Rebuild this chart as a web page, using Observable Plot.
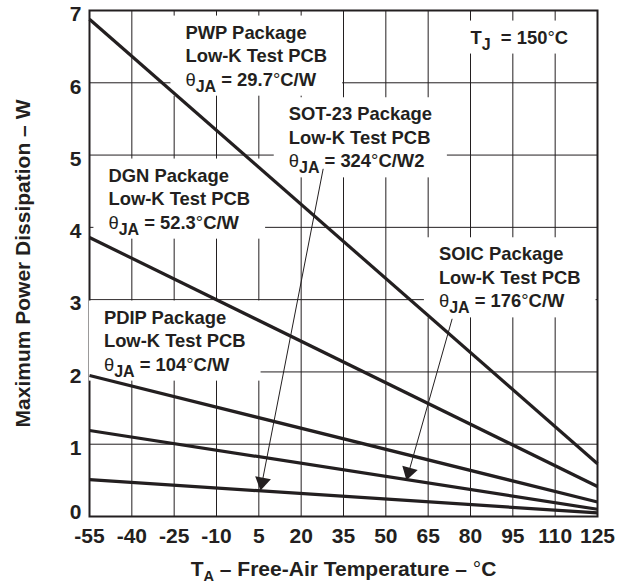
<!DOCTYPE html>
<html>
<head>
<meta charset="utf-8">
<script src="https://cdn.jsdelivr.net/npm/d3@7"></script>
<script src="https://cdn.jsdelivr.net/npm/@observablehq/plot@0.6"></script>
<style>
  html, body { margin: 0; padding: 0; background: #fff; }
</style>
</head>
<body>
<div id="chart"></div>
<script>
// ---- data ----
const temps = [-55, 125];                 // °C, line end points
const pwpPower   = [6.88, 0.73];          // W
const dgnPower   = [3.86, 0.415];
const pdipPower  = [1.95, 0.20];
const soicPower  = [1.19, 0.10];
const sot23Power = [0.51, 0.05];
const packages = ["PWP", "DGN", "PDIP", "SOIC", "SOT-23"];
const powers = [pwpPower, dgnPower, pdipPower, soicPower, sot23Power];

const xTicks = [-55, -40, -25, -10, 5, 20, 35, 50, 65, 80, 95, 110, 125];
const yTicks = [0, 1, 2, 3, 4, 5, 6, 7];

const labelTexts = [
  "PWP Package\nLow-K Test PCB\nθ_{JA} = 29.7°C/W",
  "SOT-23 Package\nLow-K Test PCB\nθ_{JA} = 324°C/W2",
  "DGN Package\nLow-K Test PCB\nθ_{JA} = 52.3°C/W",
  "PDIP Package\nLow-K Test PCB\nθ_{JA} = 104°C/W",
  "SOIC Package\nLow-K Test PCB\nθ_{JA} = 176°C/W",
  "T_{J}  = 150°C"
];
const labelT = [-21, 15.6, -48.3, -49.9, 68.8, 80];
const labelP = [6.843, 5.713, 4.865, 2.901, 3.776, 6.774];

const arrowFromT = [27.8, 73.5];
const arrowFromP = [4.81, 2.735];
const arrowToT   = [5.6, 57.3];
const arrowToP   = [0.36, 0.50];

const yTitle = "Maximum Power Dissipation – W";
const xTitle = "T_{A} – Free-Air Temperature – °C";

// ---- tables built from the arrays ----
const series = packages.flatMap((pkg, i) => temps.map((t, j) => ({pkg, t, p: powers[i][j]})));
const annotations = labelTexts.map((text, i) => ({text, x: labelT[i], y: labelP[i]}));
const arrows = arrowFromT.map((_, i) => ({x1: arrowFromT[i], y1: arrowFromP[i], x2: arrowToT[i], y2: arrowToP[i]}));

const ink = "#231f20";
const font = "'Liberation Sans', Arial, Helvetica, sans-serif";
const yAxisStyle = {tickFormat: d => String(d), tickSize: 0, tickPadding: 8, label: null, fontSize: 21, fontWeight: "bold", fill: ink};

const chart = Plot.plot({
  width: 617,
  height: 584,
  marginLeft: 89,
  marginRight: 20,
  marginTop: 10,
  marginBottom: 68,
  style: {fontFamily: font, fontSize: "21px", fontWeight: "bold", color: ink, background: "#fff", overflow: "visible"},
  x: {domain: [-55, 125]},
  y: {domain: [0, 7]},
  marks: [
    Plot.ruleX(xTicks, {stroke: ink, strokeWidth: 1}),
    Plot.ruleY(yTicks, {stroke: ink, strokeWidth: 1}),
    Plot.frame({stroke: ink, strokeWidth: 2}),
    Plot.axisX({ticks: xTicks, tickFormat: d => String(d), tickSize: 0, tickPadding: 12, label: null, fontSize: 21, fontWeight: "bold", fill: ink}),
    Plot.axisY({...yAxisStyle, ticks: yTicks.filter(d => d > 0), dy: 4}),
    Plot.axisY({...yAxisStyle, ticks: yTicks.filter(d => d === 0), dy: -4}),
    Plot.line(series, {x: "t", y: "p", z: "pkg", stroke: ink, strokeWidth: 3.2, strokeLinecap: "butt"}),
    Plot.text(annotations, {x: "x", y: "y", text: "text", textAnchor: "start", lineAnchor: "top", lineHeight: 1.28, fontSize: 18.4, fontWeight: "bold", fontFamily: font, fill: ink}),
    Plot.link(arrows, {x1: "x1", y1: "y1", x2: "x2", y2: "y2", stroke: ink, strokeWidth: 1, markerEnd: "arrow"}),
    Plot.text([yTitle], {text: d => d, frameAnchor: "left", textAnchor: "middle", dx: -66, rotate: -90, fontSize: 21, fontWeight: "bold", fontFamily: font, fill: ink}),
    Plot.text([xTitle], {text: d => d, frameAnchor: "bottom", textAnchor: "middle", dy: 45, lineAnchor: "top", fontSize: 21, fontWeight: "bold", fontFamily: font, fill: ink})
  ]
});

document.getElementById("chart").appendChild(chart);
const svg = chart.tagName.toLowerCase() === "svg" ? chart : chart.querySelector("svg");
const ns = "http://www.w3.org/2000/svg";

// subscripts and symbol glyphs as real text tspans
function richify(el, sub, subSize) {
  const lines = el.querySelectorAll("tspan");
  const targets = lines.length ? Array.from(lines) : [el];
  el.style.whiteSpace = "pre";
  for (const tgt of targets) {
    const s = tgt.textContent;
    if (!/_\{|θ|°/.test(s)) continue;
    tgt.textContent = "";
    const parts = s.split(/(_\{[^}]*\}|θ|°)/).filter(p => p);
    let shifted = false;
    for (const p of parts) {
      const ts = document.createElementNS(ns, "tspan");
      if (p.startsWith("_{")) {
        ts.textContent = p.slice(2, -1);
        ts.setAttribute("dy", sub);
        ts.setAttribute("font-size", subSize);
        shifted = true;
      } else {
        ts.textContent = p;
        if (shifted) { ts.setAttribute("dy", -sub); shifted = false; }
        if (p === "θ" || p === "°") ts.setAttribute("font-weight", "normal");
      }
      tgt.appendChild(ts);
    }
  }
}
const textGroups = svg.querySelectorAll('g[aria-label="text"]');
textGroups.forEach((g, gi) => {
  const isXTitle = gi === textGroups.length - 1;
  g.querySelectorAll("text").forEach(t => richify(t, isXTitle ? 4.5 : 6, isXTitle ? 14.5 : 16));
});

// white boxes behind the annotation labels (hide the grid there)
const annG = textGroups[0];
const lineG = svg.querySelector('g[aria-label="line"]');
if (annG && lineG) {
  const sr = svg.getBoundingClientRect();
  const boxG = document.createElementNS(ns, "g");
  boxG.setAttribute("aria-label", "label boxes");
  for (const t of annG.querySelectorAll("text")) {
    const r = t.getBoundingClientRect();
    const rect = document.createElementNS(ns, "rect");
    rect.setAttribute("x", r.left - sr.left - 15);
    rect.setAttribute("y", r.top - sr.top - 6);
    rect.setAttribute("width", r.width + 30);
    rect.setAttribute("height", r.height + 7);
    rect.setAttribute("fill", "#fff");
    boxG.appendChild(rect);
  }
  lineG.parentNode.insertBefore(boxG, lineG);
}

// filled triangular arrow heads
svg.querySelectorAll('g[aria-label="link"] marker').forEach(m => {
  m.setAttribute("viewBox", "-14 -9 16 18");
  m.setAttribute("markerWidth", 16);
  m.setAttribute("markerHeight", 18);
  m.setAttribute("markerUnits", "userSpaceOnUse");
  m.setAttribute("fill", ink);
  m.setAttribute("stroke", "none");
  const path = m.querySelector("path");
  if (path) path.setAttribute("d", "M-13,-8L0,0L-13,8Z");
});
</script>
</body>
</html>
